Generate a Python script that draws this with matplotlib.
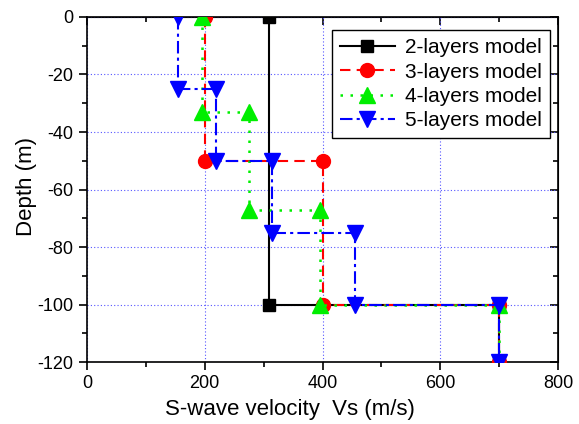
import matplotlib
matplotlib.use("Agg")
import matplotlib.pyplot as plt
from matplotlib.ticker import MultipleLocator, FuncFormatter

plt.rcParams['font.family'] = ['Liberation Sans', 'DejaVu Sans']
plt.rcParams['axes.unicode_minus'] = False

# Step profiles (velocity m/s, depth m)
v2 = [310, 310, 700, 700]
d2 = [0, -100, -100, -120]
v3 = [200, 200, 400, 400, 700, 700]
d3 = [0, -50, -50, -100, -100, -120]
v4 = [195, 195, 275, 275, 395, 395, 700, 700]
d4 = [0, -33, -33, -67, -67, -100, -100, -120]
v5 = [155, 155, 220, 220, 315, 315, 455, 455, 700, 700]
d5 = [0, -25, -25, -50, -50, -75, -75, -100, -100, -120]
labels = ["2-layers model", "3-layers model", "4-layers model", "5-layers model"]

fig = plt.figure(figsize=(5.79, 4.24), dpi=100)
ax = fig.add_axes([0.150, 0.146, 0.814, 0.814])

ax.grid(True, which='major', color='#5555ff', linestyle=(0, (1, 2)), linewidth=0.8)
ax.set_axisbelow(True)

ax.plot(v2, d2, color='black', linestyle='-', linewidth=1.5, marker='s', markersize=9, label=labels[0], zorder=3)
ax.plot(v3, d3, color='red', linestyle=(0, (5, 3)), linewidth=1.5, marker='o', markersize=10, label=labels[1], zorder=4)
ax.plot(v4, d4, color='#00ee00', linestyle=(0, (1, 3)), linewidth=1.8, marker='^', markersize=11, label=labels[2], zorder=5)
ax.plot(v5, d5, color='blue', linestyle=(0, (6, 2, 1.5, 2)), linewidth=1.5, marker='v', markersize=11, label=labels[3], zorder=6)

ax.set_xlim(0, 800)
ax.set_ylim(-120, 0)
ax.xaxis.set_major_locator(MultipleLocator(200))
ax.xaxis.set_minor_locator(MultipleLocator(100))
ax.yaxis.set_major_locator(MultipleLocator(20))
ax.yaxis.set_minor_locator(MultipleLocator(10))

fmt = FuncFormatter(lambda v, p: ("-%d" % abs(v)) if v < 0 else "%d" % v)
ax.yaxis.set_major_formatter(fmt)

ax.tick_params(which='major', direction='out', length=6, width=1.2, labelsize=13)
ax.tick_params(which='minor', direction='out', length=3.5, width=1.2)
for s in ax.spines.values():
    s.set_linewidth(1.2)

secx = ax.secondary_xaxis('top')
secx.xaxis.set_major_locator(MultipleLocator(200))
secx.xaxis.set_minor_locator(MultipleLocator(100))
secx.tick_params(which='major', direction='in', length=6, width=1.2, labeltop=False)
secx.tick_params(which='minor', direction='in', length=3.5, width=1.2)
secy = ax.secondary_yaxis('right')
secy.yaxis.set_major_locator(MultipleLocator(20))
secy.yaxis.set_minor_locator(MultipleLocator(10))
secy.tick_params(which='major', direction='in', length=6, width=1.2, labelright=False)
secy.tick_params(which='minor', direction='in', length=3.5, width=1.2)

ax.set_xlabel("S-wave velocity  Vs (m/s)", fontsize=16)
ax.xaxis.set_label_coords(0.431, -0.108)
ax.set_ylabel("Depth (m)", fontsize=16)
ax.yaxis.set_label_coords(-0.106, 0.51)

leg = ax.legend(loc='upper right', bbox_to_anchor=(0.983, 0.962), fontsize=15,
                numpoints=1, fancybox=False, framealpha=1, edgecolor='black',
                borderaxespad=0, handlelength=2.6, handletextpad=0.5,
                labelspacing=0.25, borderpad=0.4)
leg.get_frame().set_linewidth(1.0)

fig.savefig("out.png", dpi=100)
